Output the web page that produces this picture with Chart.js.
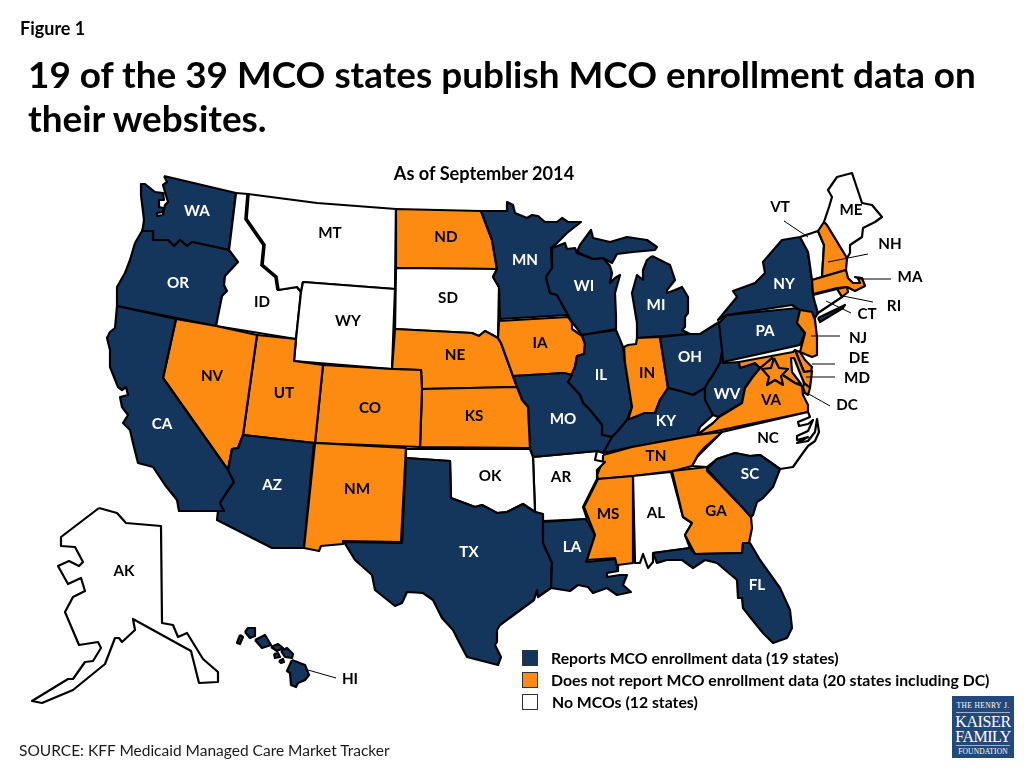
<!DOCTYPE html>
<html>
<head>
<meta charset="utf-8">
<title>Figure 1</title>
<script src="https://cdn.jsdelivr.net/npm/chart.js@4"></script>
<style>
  html, body { margin: 0; padding: 0; background: #fff; }
  #page { position: relative; width: 1024px; height: 768px; overflow: hidden; font-family: Lato, sans-serif; color: #000; }
  #map { position: absolute; left: 0; top: 0; }
  .txt { position: absolute; white-space: nowrap; font-weight: 700; }
  #figure { left: 20px; top: 17px; font-size: 18px; }
  #title { left: 28px; top: 52px; font-size: 36.9px; line-height: 44px; white-space: pre; }
  #subtitle { left: 0; width: 968px; text-align: center; top: 162px; font-size: 18.2px; }
  #source { left: 19px; top: 741px; font-size: 15.5px; font-weight: 400; color: #1a1a1a; }
  .swatch { position: absolute; left: 522px; width: 14px; height: 14px; border: 1.5px solid #333; }
  .legend { left: 551px; font-size: 15.8px; }
  #logo { position: absolute; left: 952px; top: 696px; width: 62px; height: 62px; background: #23497a; color: #fff; font-family: "Liberation Serif", serif; text-align: center; }
  #logo div { position: absolute; left: 0; width: 62px; }
  #logo hr { position: absolute; left: 4px; width: 54px; margin: 0; border: 0; border-top: 1px solid #9fb3cc; }
</style>
</head>
<body>
<div id="page">
  <canvas id="map" width="1024" height="768"></canvas>
  <div class="txt" id="figure"></div>
  <div class="txt" id="title"></div>
  <div class="txt" id="subtitle"></div>
  <div class="txt" id="source"></div>
  <div id="legend"></div>
  <div id="logo">
    <div style="top:5px;font-size:7.5px;letter-spacing:.4px">THE HENRY J.</div>
    <hr style="top:16px">
    <div style="top:17px;font-size:16px;letter-spacing:-.4px">KAISER</div>
    <div style="top:32px;font-size:16px;letter-spacing:-.5px">FAMILY</div>
    <hr style="top:49px">
    <div style="top:51px;font-size:7.5px;letter-spacing:.1px">FOUNDATION</div>
  </div>
</div>
<script>
const figureText = "Figure 1";
const titleText = "19 of the 39 MCO states publish MCO enrollment data on\ntheir websites.";
const subtitleText = "As of September 2014";
const sourceText = "SOURCE: KFF Medicaid Managed Care Market Tracker";

const legendLabels = ["Reports MCO enrollment data (19 states)", "Does not report MCO enrollment data (20 states including DC)", "No MCOs (12 states)"];

const NAVY = "#15365c";
const ORANGE = "#fd8b12";
const WHITE = "#ffffff";
const legendColors = [NAVY, ORANGE, WHITE];

const reportingStates = ["WA","OR","CA","AZ","TX","LA","MN","WI","MI","IL","MO","KY","OH","WV","PA","NY","SC","FL","HI"];
const notReportingStates = ["NV","UT","CO","NM","ND","NE","KS","IA","IN","TN","MS","GA","VA","MD","DE","NJ","MA","NH","RI","DC"];
const noMcoStates = ["ID","MT","WY","SD","OK","AR","AL","NC","CT","VT","ME","AK"];

// state outlines in page pixels
const WA = [[164,176],[236,193],[229,250],[192,242],[187,246],[180,240],[174,246],[168,240],[153,240],[153,231],[142,231],[143,227],[144,220],[141,195],[141,184],[145,184],[150,188],[155,192],[163,193],[164,200],[159,200],[159,207],[163,208],[163,212],[157,213],[157,216],[163,215],[165,205],[168,202],[165,192],[163,185],[167,182]];
const OR = [[142,231],[153,231],[153,240],[168,240],[174,246],[180,240],[187,246],[192,242],[229,250],[238,262],[225,276],[224,285],[227,291],[222,296],[216,326],[117,306],[117,287],[125,273],[130,260],[135,243]];
const ID = [[236,193],[248,194],[246,219],[264,245],[262,265],[276,277],[278,290],[297,287],[301,292],[296,339],[216,326],[222,296],[227,291],[224,285],[225,276],[238,262],[229,250]];
const MT = [[248,194],[317,203],[396,209],[395,289],[303,282],[301,292],[297,287],[278,290],[276,277],[262,265],[264,245],[246,219]];
const WY = [[303,282],[395,289],[392,369],[294,361],[296,339],[301,292]];
const ND = [[396,209],[481,211],[492,240],[497,269],[396,268]];
const SD = [[396,268],[497,269],[493,277],[499,287],[498,338],[485,331],[479,336],[472,333],[395,329]];
const NE = [[395,329],[472,333],[479,336],[485,331],[498,338],[501,343],[517,387],[422,389],[421,370],[392,369]];
const MN = [[481,211],[507,211],[507,202],[513,205],[515,213],[527,218],[532,215],[538,216],[545,222],[557,222],[562,218],[568,222],[581,222],[567,233],[555,245],[551,248],[552,268],[546,277],[550,293],[557,295],[568,315],[500,319],[499,287],[493,277],[497,269],[492,240]];
const WI = [[552,248],[555,247],[565,243],[567,249],[575,248],[577,253],[593,259],[603,258],[610,266],[612,273],[610,283],[615,278],[620,275],[615,293],[616,317],[616,329],[582,335],[572,322],[568,315],[557,295],[550,293],[546,277],[552,268]];
const MI_UPPER = [[577,252],[580,245],[591,230],[593,238],[610,242],[627,237],[647,240],[657,247],[655,250],[633,252],[617,254],[612,263],[603,258],[593,259]];
const MI_LOWER = [[652,256],[670,265],[675,280],[667,290],[667,293],[675,290],[682,287],[688,297],[688,313],[685,317],[685,327],[682,330],[690,334],[637,338],[637,323],[632,293],[637,275],[643,280],[643,270],[647,260]];
const IA = [[499,321],[568,317],[572,323],[572,329],[582,336],[585,344],[584,354],[577,356],[575,367],[572,375],[564,373],[513,376],[501,343],[498,338]];
const IL = [[582,335],[616,330],[623,347],[625,363],[632,407],[627,420],[617,432],[612,437],[602,435],[602,425],[590,410],[583,403],[580,395],[568,382],[575,367],[577,356],[584,354],[585,344]];
const IN = [[624,347],[628,345],[636,344],[637,338],[660,337],[668,388],[660,400],[655,413],[645,413],[628,420],[632,407],[625,363]];
const OH = [[660,337],[690,334],[700,334],[719,322],[723,350],[720,363],[713,375],[705,388],[693,395],[680,391],[668,388]];
const KY = [[603,453],[610,438],[612,437],[617,432],[627,420],[645,413],[655,413],[660,400],[668,388],[680,391],[693,395],[705,388],[705,397],[713,415],[700,427],[697,435],[632,447]];
const WV = [[722,352],[723,363],[740,362],[740,368],[755,363],[760,368],[752,378],[745,388],[742,403],[718,417],[713,415],[705,400],[705,388],[708,382],[713,375],[720,363]];
const PA = [[719,323],[727,315],[798,308],[801,310],[797,323],[805,333],[800,345],[723,362],[722,350]];
const NY = [[800,237],[808,252],[812,280],[813,295],[815,303],[818,313],[815,318],[798,309],[792,305],[727,315],[718,320],[737,297],[733,291],[755,283],[765,273],[763,262],[782,240]];
const NY_ISLAND = [[818,318],[845,305],[843,308],[820,322]];
const VT = [[800,237],[818,231],[824,245],[822,277],[812,280],[808,252]];
const NH = [[818,231],[824,222],[827,225],[847,258],[846,270],[822,277],[824,245]];
const ME = [[824,222],[829,207],[832,197],[828,190],[837,177],[852,173],[862,203],[872,205],[882,217],[875,222],[863,228],[862,237],[850,245],[850,253],[847,258],[827,225]];
const MA = [[812,280],[846,270],[848,278],[853,283],[860,283],[858,278],[855,277],[862,278],[865,286],[855,291],[847,287],[837,288],[813,294]];
const RI = [[837,289],[847,287],[848,292],[842,297]];
const CT = [[813,295],[837,289],[842,297],[818,313],[815,303]];
const NJ = [[800,310],[812,312],[815,320],[817,337],[817,355],[812,357],[800,352],[805,333],[797,323]];
const DE = [[795,350],[800,352],[805,360],[812,367],[811,371],[804,372]];
const MD = [[739,362],[793,352],[795,350],[804,372],[812,371],[810,388],[804,383],[798,368],[794,358],[791,358],[792,372],[801,384],[795,383],[783,375],[775,362],[772,358],[760,368],[755,363],[740,368]];
const VA = [[697,435],[713,423],[719,417],[742,403],[745,388],[752,378],[760,368],[772,358],[783,375],[795,383],[802,386],[803,395],[808,405],[808,412]];
const VA_SHORE = [[804,383],[810,388],[808,395],[805,393],[803,387]];
const DC = [[774,358],[779,368],[788,369],[781,376],[783,385],[775,380],[767,385],[769,377],[762,369],[771,368]];
const NC = [[722,432],[808,412],[810,417],[798,422],[799,426],[808,424],[813,420],[808,431],[797,436],[797,440],[808,437],[797,443],[808,441],[815,432],[817,419],[819,432],[815,441],[808,446],[800,457],[793,467],[780,469],[760,455],[750,456],[735,453],[717,459],[707,467],[692,466],[697,457]];
const TN = [[603,455],[632,447],[697,435],[722,432],[705,447],[698,455],[692,466],[673,471],[633,476],[598,479],[597,475],[603,460]];
const AR = [[533,457],[597,451],[595,460],[605,462],[597,470],[597,479],[583,507],[587,519],[543,521],[542,514],[535,512]];
const MO = [[513,376],[564,373],[572,375],[568,382],[580,395],[583,403],[590,410],[602,425],[602,435],[612,437],[603,453],[597,451],[533,457],[530,448],[528,407],[522,400],[517,387]];
const KS = [[422,389],[517,387],[522,400],[528,407],[530,448],[420,447]];
const CO = [[323,365],[392,369],[421,370],[422,389],[420,447],[315,443]];
const UT = [[257,335],[296,339],[294,361],[323,365],[315,443],[243,435]];
const NV = [[176,319],[216,326],[257,335],[243,435],[238,448],[232,449],[228,470],[163,378]];
const CA = [[117,306],[176,319],[163,378],[228,470],[234,482],[227,492],[220,503],[224,511],[179,511],[177,500],[165,485],[153,467],[138,463],[133,443],[130,430],[123,423],[128,415],[122,407],[120,397],[128,395],[126,387],[122,390],[118,387],[110,367],[110,350],[107,338],[110,332],[115,328]];
const AZ = [[243,435],[314,443],[304,548],[272,548],[217,520],[218,511],[224,511],[220,503],[227,492],[234,482],[228,470],[232,449],[238,448]];
const NM = [[315,443],[406,448],[401,542],[343,541],[343,544],[321,546],[319,551],[304,548]];
const OK = [[406,449],[530,449],[533,457],[535,512],[523,504],[507,512],[497,513],[482,505],[475,507],[451,498],[450,461],[406,458]];
const TX = [[406,458],[450,461],[451,498],[475,507],[482,505],[497,513],[507,512],[523,504],[535,512],[543,514],[543,543],[552,563],[551,588],[538,597],[537,590],[534,600],[500,625],[497,630],[497,642],[495,645],[501,657],[498,665],[467,657],[458,640],[453,630],[442,618],[433,600],[423,593],[407,592],[402,603],[395,606],[375,590],[372,575],[355,560],[344,542],[402,543]];
const LA = [[543,522],[586,519],[595,535],[586,562],[617,559],[618,571],[607,573],[607,577],[620,575],[627,575],[623,585],[631,592],[617,595],[607,588],[593,593],[588,587],[578,585],[570,591],[551,588],[552,563],[543,543]];
const MS = [[598,479],[633,476],[633,563],[618,565],[618,571],[615,558],[587,560],[595,535],[584,507]];
const AL = [[633,476],[671,472],[683,517],[692,523],[685,535],[690,548],[653,553],[653,562],[648,568],[643,554],[640,563],[635,563]];
const GA = [[672,471],[707,467],[707,471],[723,487],[742,507],[751,517],[752,528],[749,543],[743,543],[742,553],[695,554],[685,535],[692,523],[683,517]];
const SC = [[707,469],[717,459],[735,453],[750,456],[760,455],[780,469],[773,487],[763,498],[757,502],[753,515],[751,517],[742,507],[723,487]];
const FL = [[653,553],[690,548],[695,554],[742,553],[743,543],[750,543],[760,560],[780,588],[790,610],[792,628],[787,638],[773,643],[763,633],[750,617],[743,608],[742,598],[738,598],[737,580],[717,563],[705,560],[693,568],[682,560],[667,560],[657,563]];
const AK = [[99,508],[117,513],[126,523],[161,526],[162,623],[173,625],[178,637],[187,633],[203,659],[218,672],[218,682],[199,683],[191,651],[133,619],[135,630],[122,642],[119,638],[115,638],[105,664],[73,690],[42,703],[32,701],[68,679],[73,679],[85,662],[93,661],[101,648],[98,642],[79,645],[65,612],[73,597],[85,591],[81,578],[68,584],[58,566],[69,561],[79,566],[83,562],[75,547],[61,546],[61,537]];
const HI_KAUAI = [[245,632],[248,628],[255,628],[255,636],[250,638]];
const HI_NIIHAU = [[240,635],[243,637],[240,644],[237,643]];
const HI_OAHU = [[255,640],[265,635],[271,645],[262,648]];
const HI_MOLOKAI = [[271,647],[278,644],[283,648],[277,651]];
const HI_MAUI = [[281,651],[287,648],[293,654],[292,658],[285,657]];
const HI_LANAI = [[274,654],[278,653],[280,657],[275,658]];
const HI_KAHOOLAWE = [[279,661],[283,659],[284,662],[281,663]];
const HI_BIG = [[292,660],[305,665],[309,675],[305,680],[298,683],[296,687],[291,685],[290,673],[287,671]];

const stateShapes = [
  ["AK",AK],["HI",HI_KAUAI],["HI",HI_NIIHAU],["HI",HI_OAHU],["HI",HI_MOLOKAI],["HI",HI_MAUI],["HI",HI_LANAI],["HI",HI_KAHOOLAWE],["HI",HI_BIG],
  ["WA",WA],["OR",OR],["ID",ID],["MT",MT],["WY",WY],["ND",ND],["SD",SD],["NE",NE],["MN",MN],["WI",WI],["MI",MI_UPPER],["MI",MI_LOWER],
  ["IA",IA],["IL",IL],["IN",IN],["OH",OH],["KY",KY],["WV",WV],["PA",PA],["NY",NY],["NY",NY_ISLAND],["VT",VT],["NH",NH],["ME",ME],["MA",MA],["RI",RI],["CT",CT],
  ["NJ",NJ],["DE",DE],["VA",VA],["MD",MD],["VA",VA_SHORE],["NC",NC],["TN",TN],["AR",AR],["MO",MO],["KS",KS],["CO",CO],["UT",UT],["NV",NV],["CA",CA],["AZ",AZ],["NM",NM],
  ["OK",OK],["TX",TX],["LA",LA],["MS",MS],["AL",AL],["GA",GA],["SC",SC],["FL",FL],["DC",DC]
];

// leader lines from outside labels to the small states
const leaderLines = [
  [[784,221],[808,237]], [[868,254],[828,262]], [[891,279],[857,279]], [[873,302],[843,296]], [[851,313],[826,301]],
  [[840,336],[811,336]], [[835,364],[812,364]], [[835,377],[806,377]], [[830,406],[807,393]], [[336,678],[308,670]]
];
const idahoMontanaBorder = [[248,194],[246,219],[264,245],[262,265],[276,277],[278,290]];

const labelCodes = ["WA","OR","CA","NV","ID","MT","WY","UT","AZ","CO","NM","ND","SD","NE","KS","OK","TX","MN","IA","MO","AR","LA","WI","IL","MI","IN","OH","KY","TN","MS","AL","GA","SC","FL","NC","VA","WV","PA","NY","ME","VT","NH","MA","RI","CT","NJ","DE","MD","DC","AK","HI"];
const labelX = [197,178,162,212,262,330,348,284,272,370,357,446,448,455,474,490,469,525,540,563,561,572,584,601,656,647,690,666,656,608,656,716,750,757,768,771,727,765,784,851,780,890,910,894,867,858,859,857,847,124,350];
const labelY = [211,283,424,376,302,233,321,393,485,408,489,237,298,355,416,476,552,260,343,419,477,547,286,375,305,373,357,421,456,514,513,511,474,585,438,400,394,331,284,210,207,244,277,306,314,338,358,378,405,571,679];

function stateColor(code) {
  if (reportingStates.includes(code)) return NAVY;
  if (notReportingStates.includes(code)) return ORANGE;
  return WHITE;
}

function toPoints(outline) {
  return outline.map((p) => ({ x: p[0], y: p[1] }));
}

const datasets = [];
stateShapes.forEach(([code, outline]) => {
  datasets.push({
    label: code,
    data: toPoints(outline.concat([outline[0]])),
    showLine: true,
    fill: "shape",
    backgroundColor: stateColor(code),
    borderColor: "#000",
    borderWidth: 2.2,
    borderJoinStyle: "round",
    pointRadius: 0,
    order: -datasets.length
  });
});
leaderLines.concat([idahoMontanaBorder]).forEach((line, i) => {
  datasets.push({
    label: "line" + i,
    data: toPoints(line),
    showLine: true,
    fill: false,
    borderColor: "#000",
    borderWidth: i === leaderLines.length ? 3.6 : 1,
    pointRadius: 0,
    order: -datasets.length
  });
});

const stateLabelPlugin = {
  id: "stateLabels",
  afterDatasetsDraw(chart) {
    const { ctx, scales } = chart;
    ctx.save();
    ctx.font = "700 15.2px Lato, sans-serif";
    ctx.textAlign = "center";
    ctx.textBaseline = "middle";
    labelCodes.forEach((code, i) => {
      ctx.fillStyle = reportingStates.includes(code) && code !== "HI" ? "#fff" : "#000";
      ctx.fillText(code, scales.x.getPixelForValue(labelX[i]), scales.y.getPixelForValue(labelY[i]));
    });
    ctx.restore();
  }
};

new Chart(document.getElementById("map"), {
  type: "scatter",
  data: { datasets: datasets },
  plugins: [stateLabelPlugin],
  options: {
    responsive: false,
    animation: false,
    layout: { padding: 0 },
    plugins: { legend: { display: false }, tooltip: { enabled: false } },
    scales: {
      x: { type: "linear", min: 0, max: 1024, display: false },
      y: { type: "linear", min: 0, max: 768, reverse: true, display: false }
    }
  }
});

document.getElementById("figure").textContent = figureText;
document.getElementById("title").textContent = titleText;
document.getElementById("subtitle").textContent = subtitleText;
document.getElementById("source").textContent = sourceText;

const legendBox = document.getElementById("legend");
const legendSwatchTop = [650, 672, 694];
const legendTextLeft = [551, 551, 552];
legendLabels.forEach((label, i) => {
  const swatch = document.createElement("div");
  swatch.className = "swatch";
  swatch.style.top = legendSwatchTop[i] + "px";
  swatch.style.background = legendColors[i];
  legendBox.appendChild(swatch);
  const text = document.createElement("div");
  text.className = "txt legend";
  text.style.left = legendTextLeft[i] + "px";
  text.style.top = legendSwatchTop[i] - 2 + "px";
  text.textContent = label;
  legendBox.appendChild(text);
});
</script>
</body>
</html>
